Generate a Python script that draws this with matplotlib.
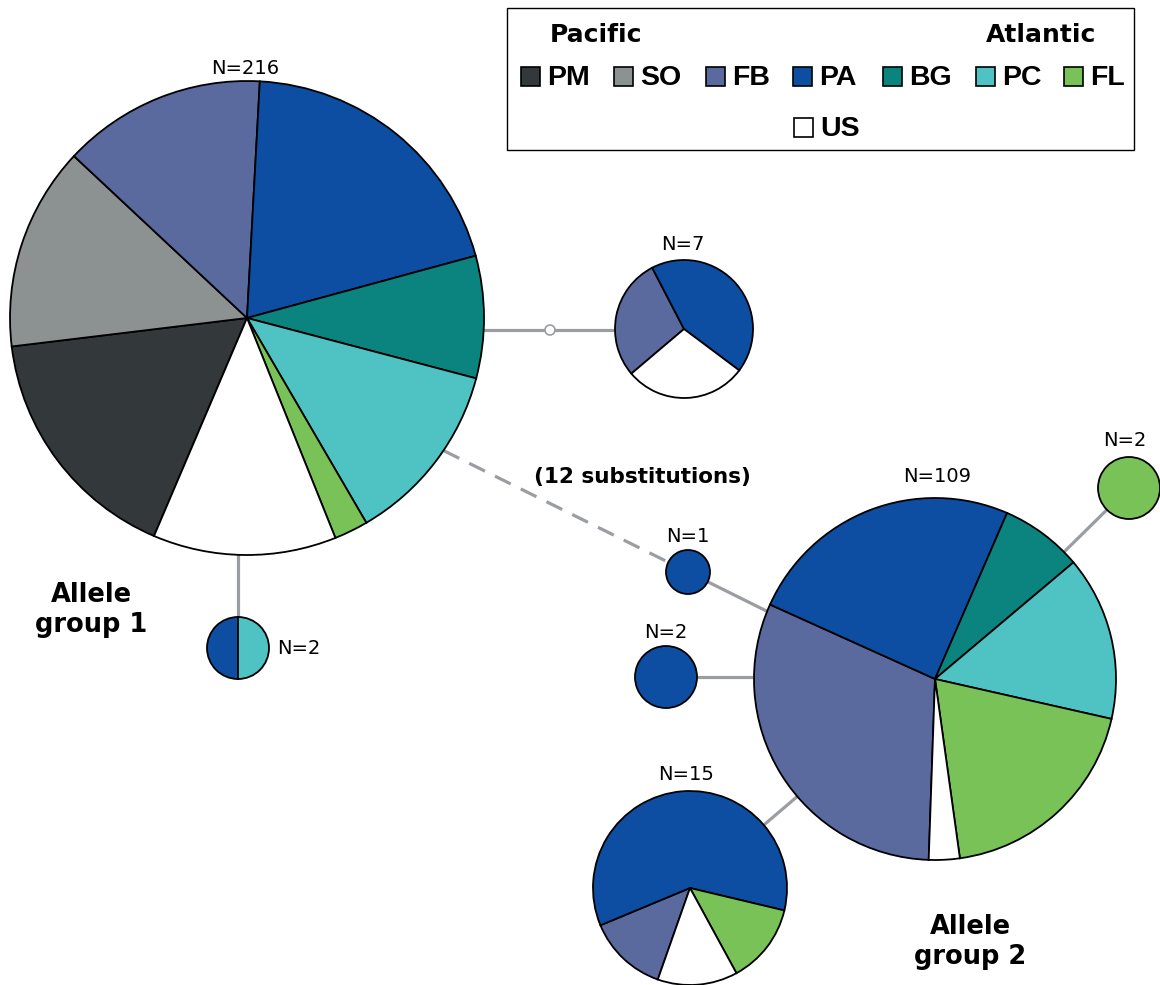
import numpy as np
import matplotlib
matplotlib.use("Agg")
import matplotlib.pyplot as plt
from matplotlib.patches import Rectangle, Circle

# haplotype regions (legend order)
regions = ["PM", "SO", "FB", "PA", "BG", "PC", "FL", "US"]
colors = ["#33383b", "#8c9192", "#5a6a9e", "#0d4ea2",
          "#0b847f", "#4fc3c3", "#79c257", "#ffffff"]

# counts per haplotype, same order as regions
hap_216 = [36, 30, 30, 43, 18, 27, 5, 27]
hap_7 = [0, 0, 2, 3, 0, 0, 0, 2]
hap_2_pa_pc = [0, 0, 0, 1, 0, 1, 0, 0]
hap_1 = [0, 0, 0, 1, 0, 0, 0, 0]
hap_2_pa = [0, 0, 0, 2, 0, 0, 0, 0]
hap_109 = [0, 0, 34, 27, 8, 16, 21, 3]
hap_15 = [0, 0, 2, 9, 0, 0, 2, 2]
hap_2_fl = [0, 0, 0, 0, 0, 0, 2, 0]

# network layout: name -> (counts, x, y, radius, start angle, label pos, ha)
W, H = 1160, 985
nodes = {
    "g1": (hap_216, 247, H - 318, 237, 246.9, (245, H - 69), "center"),
    "n7": (hap_7, 684, H - 329, 69, 220.3, (683, H - 245), "center"),
    "h2": (hap_2_pa_pc, 238, H - 648, 31, 270, (277, H - 648), "left"),
    "n1": (hap_1, 688, H - 572, 22, 90, (688, H - 536), "center"),
    "n2": (hap_2_pa, 666, H - 677, 31, 90, (666, H - 632), "center"),
    "g2": (hap_109, 935, H - 679, 181, 268.0, (937, H - 476), "center"),
    "n15": (hap_15, 690, H - 888, 97, 250.6, (686, H - 775), "center"),
    "nfl": (hap_2_fl, 1129, H - 488, 31, 90, (1125, H - 440), "center"),
}
median_vector = (550, H - 330)

edge_color = "#9a9da1"

fig = plt.figure(figsize=(W / 100, H / 100), dpi=100)
ax = fig.add_axes([0, 0, 1, 1])


def pos(name):
    n = nodes[name]
    return np.array([n[1], n[2]], dtype=float)


def line(p, q, **kw):
    ax.plot([p[0], q[0]], [p[1], q[1]], color=edge_color, lw=2.3,
            solid_capstyle="butt", zorder=1, **kw)


# edges between haplotypes (straight runs end under the bigger pie)
line((pos("g1")[0], median_vector[1]), median_vector)
line(median_vector, (pos("n7")[0], median_vector[1]))
line(pos("h2"), (pos("h2")[0], pos("g1")[1]))
line(pos("n2"), (pos("g2")[0], pos("n2")[1]))
line(pos("n15"), pos("g2"))
line(pos("nfl"), pos("g2"))

# long branch between the two allele groups, through the N=1 haplotype
a = np.deg2rad(-34.0)
rim = pos("g1") + nodes["g1"][3] * np.array([np.cos(a), np.sin(a)])
d = pos("n1") - rim
d /= np.linalg.norm(d)
line(rim, pos("n1"), linestyle=(0, (5.5, 3.5)))
line(pos("n1"), pos("n1") + 250 * d)

ax.add_patch(Circle(median_vector, 5, facecolor="white", edgecolor=edge_color,
                    lw=1.2, zorder=3))

# pies
for name, (counts, x, y, r, start, lab, ha) in nodes.items():
    vals = [c for c in counts if c > 0]
    cols = [col for c, col in zip(counts, colors) if c > 0]
    ax.pie(vals, colors=cols, center=(x, y), radius=r, startangle=start,
           counterclock=False, frame=True,
           wedgeprops=dict(edgecolor="black", linewidth=1.3, zorder=2))
    ax.text(lab[0], lab[1], "N=%d" % sum(counts), ha=ha, va="center",
            fontsize=14, family="DejaVu Sans", zorder=4)

# group labels
ax.text(91, H - 610, "Allele\ngroup 1", ha="center", va="center",
        fontsize=18.5, fontweight="bold", family="DejaVu Sans", linespacing=1.15)
ax.text(970, H - 942, "Allele\ngroup 2", ha="center", va="center",
        fontsize=18.5, fontweight="bold", family="DejaVu Sans", linespacing=1.15)
ax.text(642, H - 477, "(12 substitutions)", ha="center", va="center",
        fontsize=15.5, fontweight="bold", family="DejaVu Sans")

# legend
ax.add_patch(Rectangle((507, H - 150), 627, 142, facecolor="white",
                       edgecolor="black", lw=1.0, zorder=5))
ax.text(550, H - 35, "Pacific", ha="left", va="center", fontsize=18,
        fontweight="bold", family="DejaVu Sans", zorder=6)
ax.text(986, H - 35, "Atlantic", ha="left", va="center", fontsize=18,
        fontweight="bold", family="DejaVu Sans", zorder=6)
key_x = [521, 614, 706, 793, 883, 976, 1064, 794]
key_y = [76, 76, 76, 76, 76, 76, 76, 127]
for reg, col, kx, ky in zip(regions, colors, key_x, key_y):
    ax.add_patch(Rectangle((kx, H - ky - 9.5), 19, 19, facecolor=col,
                           edgecolor="black", lw=1.2, zorder=6))
    ax.text(kx + 26, H - ky - 2, reg, ha="left", va="center", fontsize=20.5,
            fontweight="bold", family="Liberation Sans", zorder=6)

ax.set_xlim(0, W)
ax.set_ylim(0, H)
ax.set_aspect("equal")
ax.axis("off")

fig.savefig("out.png", dpi=100, facecolor="white")
